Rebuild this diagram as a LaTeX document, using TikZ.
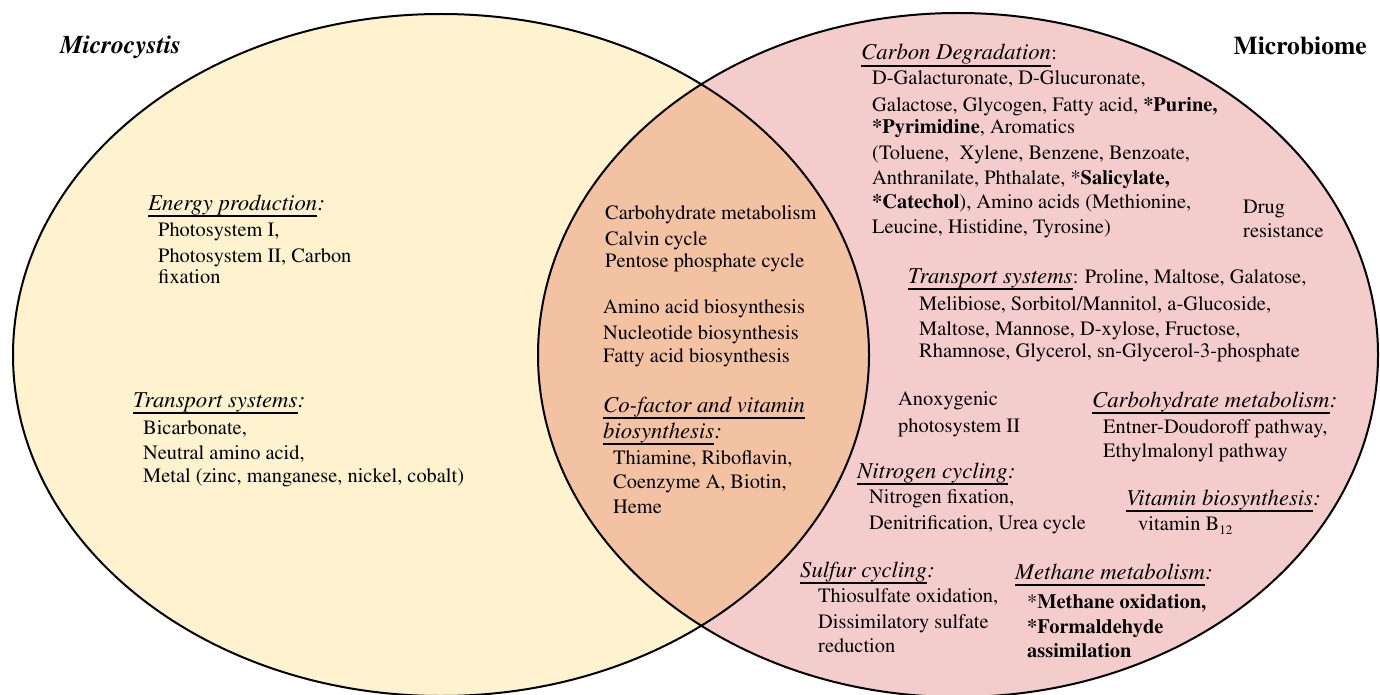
\documentclass[tikz,border=0pt]{standalone}
\usepackage[T1]{fontenc}
\usepackage{times}
\definecolor{ylw}{RGB}{254,243,206}
\definecolor{pnk}{RGB}{244,204,204}
\definecolor{pch}{RGB}{242,194,162}
\newcommand{\myhead}[5]{%
  \node[hd] (#1) at (#2,#3) {#4};
  \node[#5] (#1c) at (#1.base east) {:};
  \draw[ul] ([yshift=-6pt]#1.base west) -- ([yshift=-6pt]#1.base east);}
\begin{document}
\begin{tikzpicture}[x=1pt,y=-1pt,
  txt/.style={anchor=base west,inner sep=0pt,font=\fontsize{20.4}{24}\selectfont},
  hd/.style={anchor=base west,inner sep=0pt,font=\fontsize{22.7}{26}\selectfont\itshape},
  ul/.style={line width=2.6pt},
  ttl/.style={anchor=base west,inner sep=0pt,font=\fontsize{25.6}{30}\selectfont\bfseries},
  rim/.style={line width=2pt,draw=black}]
\useasboundingbox (0,0) rectangle (1380,695);
% circles
\fill[ylw] (441,355) ellipse [x radius=428pt, y radius=341pt];
\fill[pnk] (958,355) ellipse [x radius=420pt, y radius=342pt];
\begin{scope}
  \clip (441,355) ellipse [x radius=428pt, y radius=341pt];
  \fill[pch] (958,355) ellipse [x radius=420pt, y radius=342pt];
\end{scope}
\draw[rim] (441,355) ellipse [x radius=428pt, y radius=341pt];
\draw[rim] (958,355) ellipse [x radius=420pt, y radius=342pt];
% titles
\node[ttl] (tl) at (60,54) {\itshape Microcystis};
\node[ttl,anchor=base east] (tr) at (1367,55) {Microbiome};
% left
\myhead{ep}{148}{210}{Energy production}{hd}
\node[txt] (ep1) at (158,236) {Photosystem I,};
\node[txt] (ep2) at (158,262) {Photosystem II, Carbon};
\node[txt] (ep3) at (158,283) {fixation};
\myhead{tsl}{133}{407}{Transport systems}{hd}
\node[txt] (tsl1) at (143,434) {Bicarbonate,};
\node[txt] (tsl2) at (143,459) {Neutral amino acid,};
\node[txt] (tsl3) at (143,482) {Metal (zinc, manganese, nickel, cobalt)};
% centre
\node[txt] (c1) at (605,219) {Carbohydrate metabolism};
\node[txt] (c2) at (605,245) {Calvin cycle};
\node[txt] (c3) at (605,267) {Pentose phosphate cycle};
\node[txt] (c4) at (603,313) {Amino acid biosynthesis};
\node[txt] (c5) at (603,339) {Nucleotide biosynthesis};
\node[txt] (c6) at (603,362) {Fatty acid biosynthesis};
\node[hd] (cf) at (603,412) {Co-factor and vitamin};
\draw[ul] ([yshift=-6pt]cf.base west) -- ([yshift=-6pt]cf.base east);
\myhead{cfb}{603}{438}{biosynthesis}{hd}
\node[txt] (cf1) at (613,464) {Thiamine, Riboflavin,};
\node[txt] (cf2) at (613,488) {Coenzyme A, Biotin,};
\node[txt] (cf3) at (613,513) {Heme};
% right
\myhead{cd}{861}{60}{Carbon Degradation}{txt}
\node[txt] (cd1) at (872,85) {D-Galacturonate, D-Glucuronate,};
\node[txt] (cd2) at (872,112) {Galactose, Glycogen, Fatty acid, \textbf{*Purine,}};
\node[txt] (cd3) at (872,134) {\textbf{*Pyrimidine}, Aromatics};
\node[txt] (cd4) at (872,160) {(Toluene,~ Xylene, Benzene, Benzoate,};
\node[txt] (cd5) at (872,184) {Anthranilate, Phthalate, *\textbf{Salicylate,}};
\node[txt] (cd6) at (872,208) {\textbf{*Catechol}), Amino acids (Methionine,};
\node[txt] (cd7) at (872,233) {Leucine, Histidine, Tyrosine)};
\node[txt] (dr1) at (1243,213) {Drug};
\node[txt] (dr2) at (1243,237) {resistance};
\node[hd] (tsr) at (908,283) {Transport systems};
\node[txt] (tsrc) at (tsr.base east) {: Proline, Maltose, Galatose,};
\draw[ul] ([yshift=-6pt]tsr.base west) -- ([yshift=-6pt]tsr.base east);
\node[txt] (tsr1) at (919,310) {Melibiose, Sorbitol/Mannitol, a-Glucoside,};
\node[txt] (tsr2) at (919,335) {Maltose, Mannose, D-xylose, Fructose,};
\node[txt] (tsr3) at (919,357) {Rhamnose, Glycerol, sn-Glycerol-3-phosphate};
\node[txt] (ax1) at (898,405) {Anoxygenic};
\node[txt] (ax2) at (898,432) {photosystem II};
\myhead{cm}{1092}{407}{Carbohydrate metabolism}{hd}
\node[txt] (cm1) at (1103,433) {Entner-Doudoroff pathway,};
\node[txt] (cm2) at (1103,457) {Ethylmalonyl pathway};
\myhead{nc}{857}{478}{Nitrogen cycling}{hd}
\node[txt] (nc1) at (869,503) {Nitrogen fixation,};
\node[txt] (nc2) at (869,529) {Denitrification, Urea cycle};
\myhead{vb}{1126}{505}{Vitamin biosynthesis}{hd}
\node[txt] (vb1) at (1138,530) {vitamin B\raisebox{-4pt}{\fontsize{13}{13}\selectfont 12}};
\myhead{sc}{800}{577}{Sulfur cycling}{hd}
\node[txt] (sc1) at (818,602) {Thiosulfate oxidation,};
\node[txt] (sc2) at (818,628) {Dissimilatory sulfate};
\node[txt] (sc3) at (818,652) {reduction};
\myhead{mm}{1015}{579}{Methane metabolism}{hd}
\node[txt] (mm1) at (1027,608) {*\textbf{Methane oxidation,}};
\node[txt] (mm2) at (1027,633) {\textbf{*Formaldehyde}};
\node[txt] (mm3) at (1027,657) {\textbf{assimilation}};
\end{tikzpicture}
\end{document}
